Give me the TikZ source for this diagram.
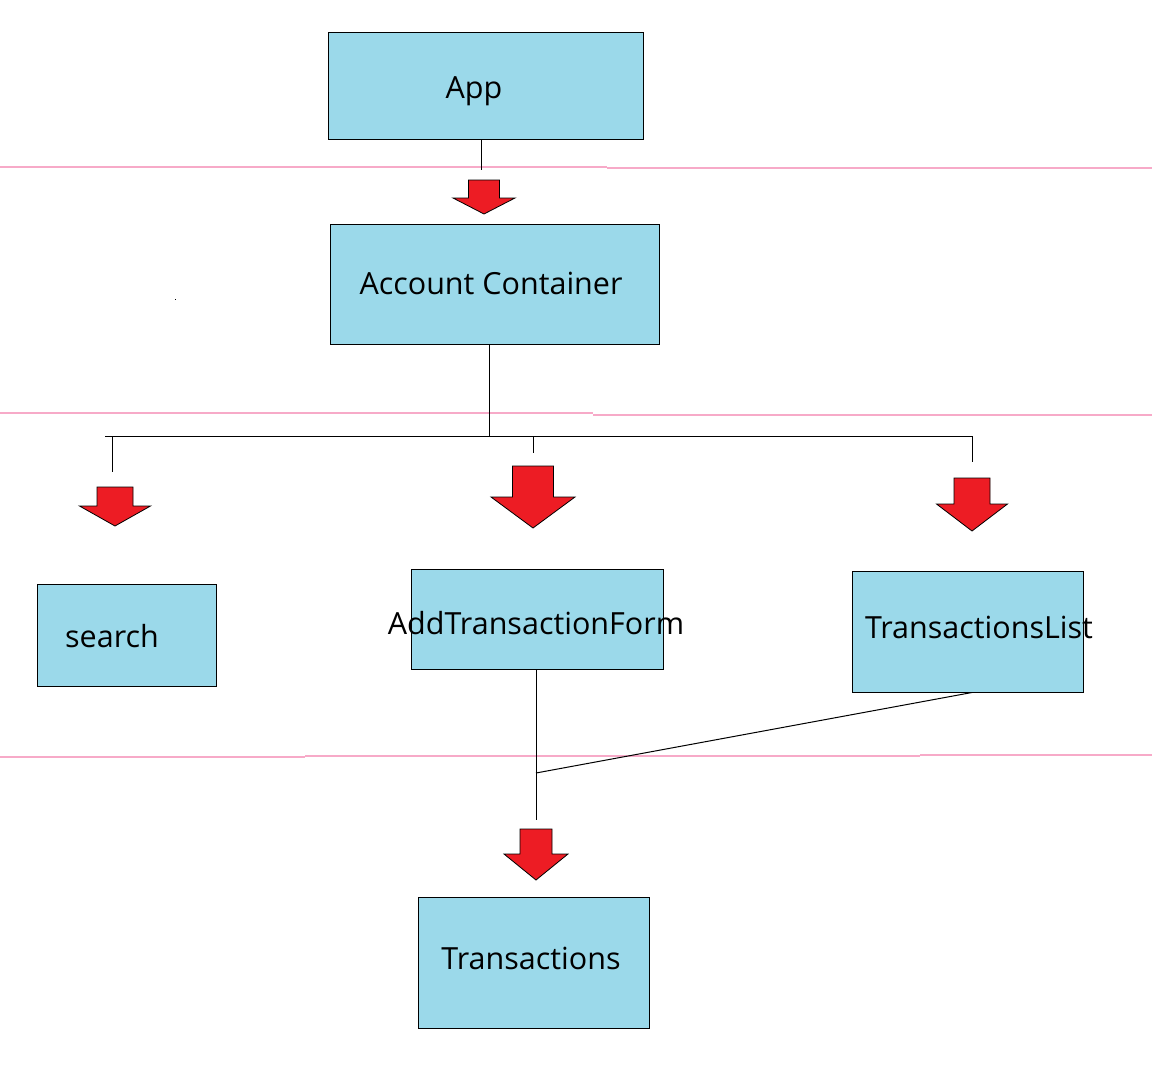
\documentclass[tikz,border=0pt]{standalone}
\usepackage{fontspec}
\setmainfont{Open Sans}
\usetikzlibrary{positioning}
\definecolor{boxblue}{RGB}{155,217,234}
\definecolor{arrowred}{RGB}{237,28,36}
\definecolor{guidepink}{RGB}{247,170,200}
\tikzset{%
	compbox/.style={draw=black, line width=1pt, fill=boxblue, inner sep=0pt},
	lbl/.style={inner sep=0pt, font=\fontsize{30.5}{36}\selectfont},
	wire/.style={draw=black, line width=1pt},
	redarrow/.style={draw=black, line width=0.8pt, fill=arrowred, line join=miter},
	guide/.style={draw=guidepink, line width=1.3pt}
}
% block arrow: {centre x}{top y}{shaft half}{shaft bottom y}{head half}{tip y}
\newcommand{\blockarrow}[6]{%
	\path[redarrow] (#1-#3,#2) -- (#1+#3,#2) -- (#1+#3,#4) -- (#1+#5,#4)
		-- (#1,#6) -- (#1-#5,#4) -- (#1-#3,#4) -- cycle;}

\begin{document}
\begin{tikzpicture}[x=1pt, y=-1pt]
	\useasboundingbox (0,0) rectangle (1152,1081);
	\fill[white] (0,0) rectangle (1152,1081);

	% pink guide lines
	\path[guide] (0,167) -- (607,167);
	\path[guide] (607,168) -- (1152,168);
	\path[guide] (0,413) -- (593,413);
	\path[guide] (593,415) -- (1152,415);
	\path[guide] (0,757) -- (305,757);
	\path[guide] (305,756) -- (920,756);
	\path[guide] (920,755) -- (1152,755);

	% components
	\node[compbox, minimum width=315, minimum height=106] (app) at (485.5,86) {};
	\node[lbl] (app-t) at (474,91) {App};
	\node[compbox, minimum width=329, minimum height=120] (acct) at (494.5,284) {};
	\node[lbl] (acct-t) at (491,283) {Account Container};
	\node[compbox, minimum width=179, minimum height=102] (search) at (126.5,635) {};
	\node[lbl] (search-t) at (112,636) {search};
	\node[compbox, minimum width=252, minimum height=100] (form) at (537,619) {};
	\node[lbl] (form-t) at (536,623) {AddTransactionForm};
	\node[compbox, minimum width=231, minimum height=121] (list) at (967.5,631.5) {};
	\node[lbl] (list-t) at (979,627) {TransactionsList};
	\node[compbox, minimum width=231, minimum height=131] (trans) at (533.5,962.5) {};
	\node[lbl] (trans-t) at (531,958) {Transactions};

	% free ends of the wires
	\coordinate (append) at (481,170);
	\coordinate (busl) at (105,436);
	\coordinate (busr) at (972,436);
	\coordinate (acctbus) at (489,436);
	\coordinate (searchend) at (112,472);
	\coordinate (formend) at (533,453);
	\coordinate (listend) at (972,462);
	\coordinate (join) at (536,773);
	\coordinate (transend) at (536,820);

	% wires
	\path[wire] (app.south -| append) -- (append);
	\path[wire] (acct.south -| acctbus) -- (acctbus);
	\path[wire] (busl) -- (busr);
	\path[wire] (busl -| searchend) -- (searchend);
	\path[wire] (busl -| formend) -- (formend);
	\path[wire] (busr) -- (listend);
	\path[wire] (form.south -| join) -- (transend);
	\path[wire] (list.south -| listend) -- (join);

	% red arrows
	\blockarrow{484}{180}{15.5}{198}{31}{214}
	\blockarrow{115}{487}{18}{506}{35.5}{526}
	\blockarrow{533}{466}{20.5}{497}{42}{528}
	\blockarrow{972}{478}{18}{504}{35.5}{531}
	\blockarrow{536}{829}{16}{854}{32}{880}

	% stray dot
	\fill[black] (174.5,298.5) rectangle (176,300);
\end{tikzpicture}
\end{document}
